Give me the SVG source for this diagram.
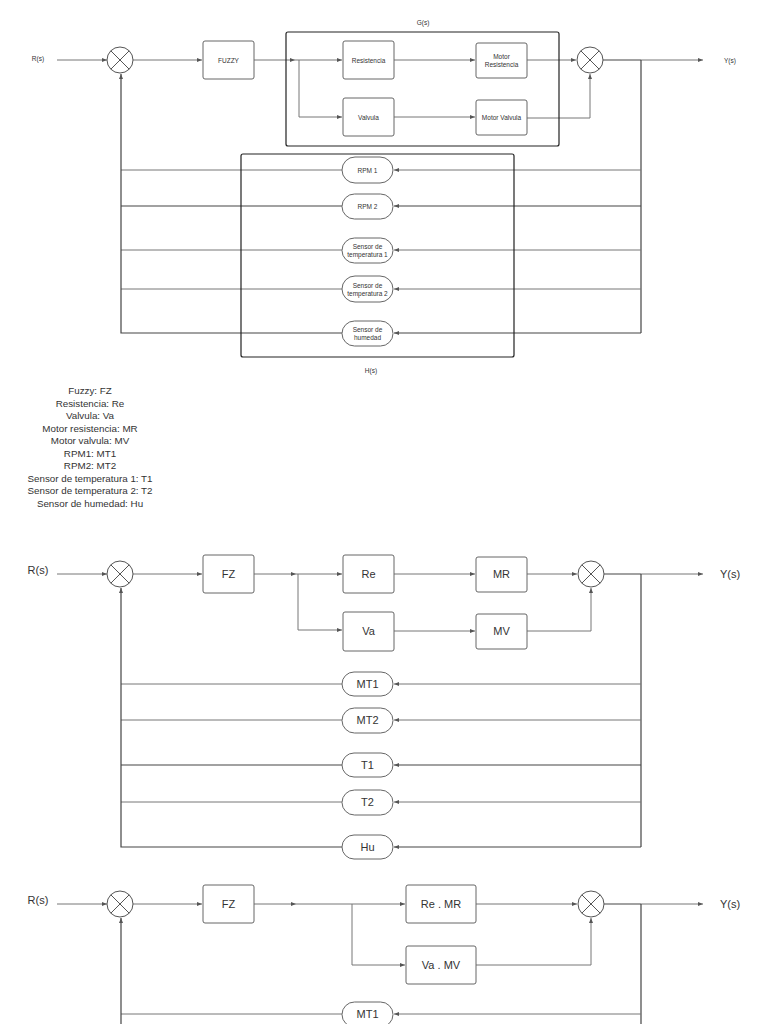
<svg xmlns="http://www.w3.org/2000/svg" width="768" height="1024" viewBox="0 0 768 1024">
<style>
text{font-family:"Liberation Sans",Arial,sans-serif;fill:#333;text-anchor:middle;dominant-baseline:central}
.s{font-size:6.5px}
.m{font-size:11px}
.lg{font-size:9.8px;dominant-baseline:auto}
.box{fill:#fff;stroke:#666;stroke-width:1}
.grp{fill:none;stroke:#222;stroke-width:1.2}
.ln{fill:none;stroke:#777;stroke-width:1}
.fb{fill:none;stroke:#444;stroke-width:1.2}
.sum{fill:#fff;stroke:#555;stroke-width:1}
.x{stroke:#555;stroke-width:1}
</style>
<defs>
<marker id="a" markerUnits="userSpaceOnUse" markerWidth="6" markerHeight="6" refX="5" refY="3" orient="auto">
<path d="M0,1 L5,3 L0,5 Z" fill="#555"/>
</marker>
</defs>
<rect width="768" height="1024" fill="#fff"/>

<!-- ================= Diagram 1 ================= -->
<g id="d1-connectors">
<path class="ln" d="M57,60 H107" marker-end="url(#a)"/>
<path class="ln" d="M133,60 H202" marker-end="url(#a)"/>
<path class="ln" d="M254,60 H295" marker-end="url(#a)"/>
<path class="ln" d="M295,60 H342" marker-end="url(#a)"/>
<path class="ln" d="M299,60 V117 H342" marker-end="url(#a)"/>
<path class="ln" d="M394,60 H475" marker-end="url(#a)"/>
<path class="ln" d="M394,117 H475" marker-end="url(#a)"/>
<path class="ln" d="M527,60 H576" marker-end="url(#a)"/>
<path class="ln" d="M527,118 H590 V74" marker-end="url(#a)"/>
<path class="fb" d="M603,60 H641"/>
<path class="ln" d="M641,60 H703" marker-end="url(#a)"/>
<path class="fb" d="M641,60 V333"/>
<path class="ln" d="M641,170 H394" marker-end="url(#a)"/>
<path class="fb" d="M641,206 H394" marker-end="url(#a)"/>
<path class="ln" d="M641,250 H394" marker-end="url(#a)"/>
<path class="ln" d="M641,289 H394" marker-end="url(#a)"/>
<path class="fb" d="M641,333 H394" marker-end="url(#a)"/>
<path class="ln" d="M342,170 H121"/>
<path class="fb" d="M342,206 H121"/>
<path class="ln" d="M342,250 H121"/>
<path class="ln" d="M342,289 H121"/>
<path class="fb" d="M342,333 H121 V74" marker-end="url(#a)"/>
</g>
<g id="d1-G"><rect class="grp" x="286" y="32" width="273" height="114" rx="2"/><text class="s" x="423" y="22">G(s)</text></g>
<g id="d1-H"><rect class="grp" x="241" y="154" width="273" height="203" rx="2"/><text class="s" x="371" y="370">H(s)</text></g>
<g id="d1-R"><text class="s" x="38" y="58">R(s)</text></g>
<g id="d1-Y"><text class="s" x="730" y="60">Y(s)</text></g>
<g id="d1-sum1"><circle class="sum" cx="120" cy="60" r="13"/><path class="x" d="M110.8,50.8 L129.2,69.2 M129.2,50.8 L110.8,69.2"/></g>
<g id="d1-sum2"><circle class="sum" cx="590" cy="60" r="13"/><path class="x" d="M580.8,50.8 L599.2,69.2 M599.2,50.8 L580.8,69.2"/></g>
<g id="d1-fuzzy"><rect class="box" x="203" y="41" width="51" height="38" rx="2"/><text class="s" x="228.5" y="60">FUZZY</text></g>
<g id="d1-res"><rect class="box" x="343" y="41" width="51" height="38" rx="2"/><text class="s" x="368.5" y="60">Resistencia</text></g>
<g id="d1-val"><rect class="box" x="343" y="98" width="51" height="38" rx="2"/><text class="s" x="368.5" y="117">Valvula</text></g>
<g id="d1-mres"><rect class="box" x="476" y="43" width="51" height="35" rx="2"/><text class="s" x="501.5" y="56">Motor</text><text class="s" x="501.5" y="64">Resistencia</text></g>
<g id="d1-mval"><rect class="box" x="476" y="100" width="51" height="35" rx="2"/><text class="s" x="501.5" y="117">Motor Valvula</text></g>
<g id="d1-rpm1"><rect class="box" x="342" y="157" width="51" height="26" rx="13"/><text class="s" x="367.5" y="170">RPM 1</text></g>
<g id="d1-rpm2"><rect class="box" x="342" y="194" width="51" height="25" rx="12.5"/><text class="s" x="367.5" y="206">RPM 2</text></g>
<g id="d1-t1"><rect class="box" x="342" y="238" width="51" height="25" rx="12.5"/><text class="s" x="367.5" y="246">Sensor de</text><text class="s" x="367.5" y="254">temperatura 1</text></g>
<g id="d1-t2"><rect class="box" x="342" y="276" width="51" height="26" rx="13"/><text class="s" x="367.5" y="285">Sensor de</text><text class="s" x="367.5" y="293">temperatura 2</text></g>
<g id="d1-hu"><rect class="box" x="342" y="321" width="51" height="25" rx="12.5"/><text class="s" x="367.5" y="329">Sensor de</text><text class="s" x="367.5" y="337">humedad</text></g>

<!-- ================= Legend ================= -->
<g id="legend">
<text class="lg" x="90" y="394">Fuzzy: FZ</text>
<text class="lg" x="90" y="406.5">Resistencia: Re</text>
<text class="lg" x="90" y="419">Valvula: Va</text>
<text class="lg" x="90" y="431.5">Motor resistencia: MR</text>
<text class="lg" x="90" y="444">Motor valvula: MV</text>
<text class="lg" x="90" y="456.5">RPM1: MT1</text>
<text class="lg" x="90" y="469">RPM2: MT2</text>
<text class="lg" x="90" y="481.5">Sensor de temperatura 1: T1</text>
<text class="lg" x="90" y="494">Sensor de temperatura 2: T2</text>
<text class="lg" x="90" y="506.5">Sensor de humedad: Hu</text>
</g>

<!-- ================= Diagram 2 ================= -->
<g id="d2-connectors">
<path class="ln" d="M57,574 H107" marker-end="url(#a)"/>
<path class="ln" d="M133,574 H202" marker-end="url(#a)"/>
<path class="ln" d="M254,574 H296" marker-end="url(#a)"/>
<path class="ln" d="M296,574 H342" marker-end="url(#a)"/>
<path class="ln" d="M298,574 V630 H342" marker-end="url(#a)"/>
<path class="ln" d="M394,574 H475" marker-end="url(#a)"/>
<path class="ln" d="M394,631 H475" marker-end="url(#a)"/>
<path class="ln" d="M527,574 H577" marker-end="url(#a)"/>
<path class="ln" d="M527,631 H591 V588" marker-end="url(#a)"/>
<path class="fb" d="M604,574 H641"/>
<path class="ln" d="M641,574 H703" marker-end="url(#a)"/>
<path class="fb" d="M641,574 V847"/>
<path class="ln" d="M641,684 H394" marker-end="url(#a)"/>
<path class="ln" d="M641,720 H394" marker-end="url(#a)"/>
<path class="fb" d="M641,765 H394" marker-end="url(#a)"/>
<path class="ln" d="M641,802 H394" marker-end="url(#a)"/>
<path class="fb" d="M641,847 H394" marker-end="url(#a)"/>
<path class="ln" d="M342,684 H121"/>
<path class="ln" d="M342,720 H121"/>
<path class="fb" d="M342,765 H121"/>
<path class="ln" d="M342,802 H121"/>
<path class="fb" d="M342,847 H121 V588" marker-end="url(#a)"/>
</g>
<g id="d2-R"><text class="m" x="38" y="570">R(s)</text></g>
<g id="d2-Y"><text class="m" x="730" y="574">Y(s)</text></g>
<g id="d2-sum1"><circle class="sum" cx="120" cy="574" r="13"/><path class="x" d="M110.8,564.8 L129.2,583.2 M129.2,564.8 L110.8,583.2"/></g>
<g id="d2-sum2"><circle class="sum" cx="591" cy="574" r="13"/><path class="x" d="M581.8,564.8 L600.2,583.2 M600.2,564.8 L581.8,583.2"/></g>
<g id="d2-fz"><rect class="box" x="203" y="555" width="51" height="38" rx="2"/><text class="m" x="228.5" y="574">FZ</text></g>
<g id="d2-re"><rect class="box" x="343" y="555" width="51" height="38" rx="2"/><text class="m" x="368.5" y="574">Re</text></g>
<g id="d2-va"><rect class="box" x="343" y="612" width="51" height="39" rx="2"/><text class="m" x="368.5" y="631">Va</text></g>
<g id="d2-mr"><rect class="box" x="476" y="557" width="51" height="35" rx="2"/><text class="m" x="501.5" y="574">MR</text></g>
<g id="d2-mv"><rect class="box" x="476" y="614" width="51" height="35" rx="2"/><text class="m" x="501.5" y="631">MV</text></g>
<g id="d2-mt1"><rect class="box" x="342" y="672" width="51" height="24" rx="12"/><text class="m" x="367.5" y="684">MT1</text></g>
<g id="d2-mt2"><rect class="box" x="342" y="708" width="51" height="25" rx="12.5"/><text class="m" x="367.5" y="720">MT2</text></g>
<g id="d2-t1"><rect class="box" x="342" y="753" width="51" height="24" rx="12"/><text class="m" x="367.5" y="765">T1</text></g>
<g id="d2-t2"><rect class="box" x="342" y="790" width="51" height="25" rx="12.5"/><text class="m" x="367.5" y="802">T2</text></g>
<g id="d2-hu"><rect class="box" x="342" y="835" width="51" height="24" rx="12"/><text class="m" x="367.5" y="847">Hu</text></g>

<!-- ================= Diagram 3 ================= -->
<g id="d3-connectors">
<path class="ln" d="M57,904 H107" marker-end="url(#a)"/>
<path class="ln" d="M133,904 H202" marker-end="url(#a)"/>
<path class="ln" d="M254,904 H296" marker-end="url(#a)"/>
<path class="ln" d="M296,904 H405" marker-end="url(#a)"/>
<path class="ln" d="M352,904 V965 H405" marker-end="url(#a)"/>
<path class="ln" d="M476,904 H577" marker-end="url(#a)"/>
<path class="ln" d="M476,965 H591 V918" marker-end="url(#a)"/>
<path class="fb" d="M604,904 H641"/>
<path class="ln" d="M641,904 H703" marker-end="url(#a)"/>
<path class="fb" d="M641,904 V1030"/>
<path class="ln" d="M641,1014 H394" marker-end="url(#a)"/>
<path class="ln" d="M342,1014 H121"/>
<path class="fb" d="M121,1030 V918" marker-end="url(#a)"/>
</g>
<g id="d3-R"><text class="m" x="38" y="900">R(s)</text></g>
<g id="d3-Y"><text class="m" x="730" y="904">Y(s)</text></g>
<g id="d3-sum1"><circle class="sum" cx="120" cy="904" r="13"/><path class="x" d="M110.8,894.8 L129.2,913.2 M129.2,894.8 L110.8,913.2"/></g>
<g id="d3-sum2"><circle class="sum" cx="591" cy="904" r="13"/><path class="x" d="M581.8,894.8 L600.2,913.2 M600.2,894.8 L581.8,913.2"/></g>
<g id="d3-fz"><rect class="box" x="203" y="885" width="51" height="38" rx="2"/><text class="m" x="228.5" y="904">FZ</text></g>
<g id="d3-remr"><rect class="box" x="406" y="885" width="70" height="38" rx="2"/><text class="m" x="441" y="904">Re . MR</text></g>
<g id="d3-vamv"><rect class="box" x="406" y="946" width="70" height="38" rx="2"/><text class="m" x="441" y="965">Va . MV</text></g>
<g id="d3-mt1"><rect class="box" x="342" y="1002" width="51" height="25" rx="12.5"/><text class="m" x="367.5" y="1014">MT1</text></g>
</svg>
